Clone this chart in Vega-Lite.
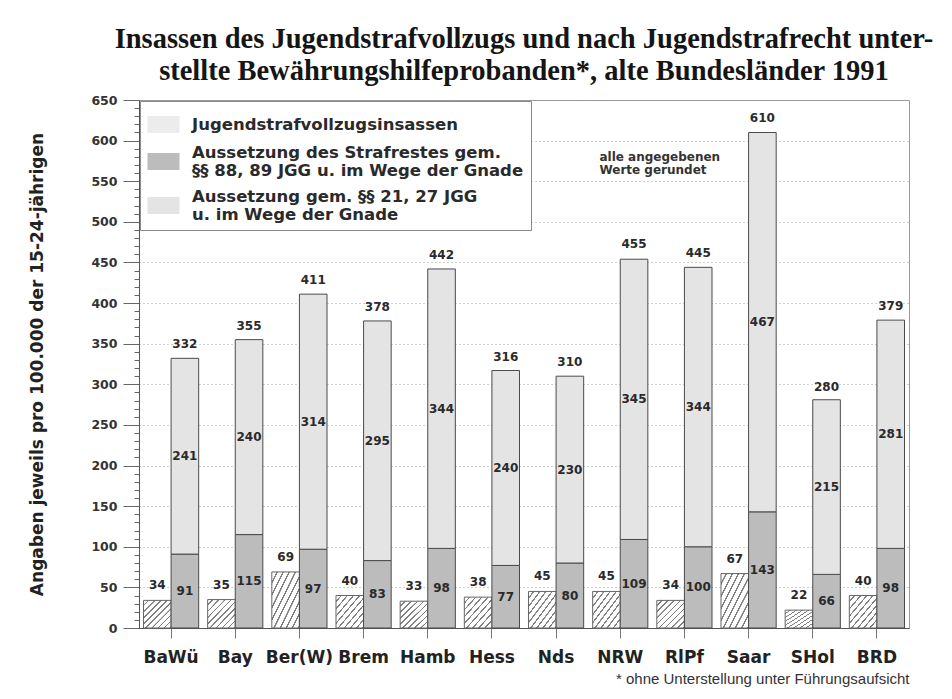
{
  "$schema": "https://vega.github.io/schema/vega-lite/v6.json",
  "width": 770,
  "height": 528,
  "autosize": {"type": "none"},
  "padding": {"left": 139, "top": 100, "right": 43, "bottom": 71},
  "background": "white",
  "title": {
    "text": ["Insassen des Jugendstrafvollzugs und nach Jugendstrafrecht unter-", "stellte Bewährungshilfeprobanden*, alte Bundesländer 1991"],
    "font": "Liberation Serif", "fontSize": 28.5, "fontWeight": "bold", "lineHeight": 32,
    "anchor": "middle", "offset": 9, "color": "#151515"
  },
  "config": {
    "view": {"stroke": "#9a9a9a", "strokeWidth": 1},
    "font": "DejaVu Sans"
  },
  "data": {"values": [
    {"state": "BaWü", "bar": "A", "series": "Jugendstrafvollzugsinsassen", "value": 34, "total": 332},
    {"state": "BaWü", "bar": "B", "series": "Aussetzung des Strafrestes gem. §§ 88, 89 JGG u. im Wege der Gnade", "value": 91, "total": 332},
    {"state": "BaWü", "bar": "B", "series": "Aussetzung gem. §§ 21, 27 JGG u. im Wege der Gnade", "value": 241, "total": 332},
    {"state": "Bay", "bar": "A", "series": "Jugendstrafvollzugsinsassen", "value": 35, "total": 355},
    {"state": "Bay", "bar": "B", "series": "Aussetzung des Strafrestes gem. §§ 88, 89 JGG u. im Wege der Gnade", "value": 115, "total": 355},
    {"state": "Bay", "bar": "B", "series": "Aussetzung gem. §§ 21, 27 JGG u. im Wege der Gnade", "value": 240, "total": 355},
    {"state": "Ber(W)", "bar": "A", "series": "Jugendstrafvollzugsinsassen", "value": 69, "total": 411},
    {"state": "Ber(W)", "bar": "B", "series": "Aussetzung des Strafrestes gem. §§ 88, 89 JGG u. im Wege der Gnade", "value": 97, "total": 411},
    {"state": "Ber(W)", "bar": "B", "series": "Aussetzung gem. §§ 21, 27 JGG u. im Wege der Gnade", "value": 314, "total": 411},
    {"state": "Brem", "bar": "A", "series": "Jugendstrafvollzugsinsassen", "value": 40, "total": 378},
    {"state": "Brem", "bar": "B", "series": "Aussetzung des Strafrestes gem. §§ 88, 89 JGG u. im Wege der Gnade", "value": 83, "total": 378},
    {"state": "Brem", "bar": "B", "series": "Aussetzung gem. §§ 21, 27 JGG u. im Wege der Gnade", "value": 295, "total": 378},
    {"state": "Hamb", "bar": "A", "series": "Jugendstrafvollzugsinsassen", "value": 33, "total": 442},
    {"state": "Hamb", "bar": "B", "series": "Aussetzung des Strafrestes gem. §§ 88, 89 JGG u. im Wege der Gnade", "value": 98, "total": 442},
    {"state": "Hamb", "bar": "B", "series": "Aussetzung gem. §§ 21, 27 JGG u. im Wege der Gnade", "value": 344, "total": 442},
    {"state": "Hess", "bar": "A", "series": "Jugendstrafvollzugsinsassen", "value": 38, "total": 316},
    {"state": "Hess", "bar": "B", "series": "Aussetzung des Strafrestes gem. §§ 88, 89 JGG u. im Wege der Gnade", "value": 77, "total": 316},
    {"state": "Hess", "bar": "B", "series": "Aussetzung gem. §§ 21, 27 JGG u. im Wege der Gnade", "value": 240, "total": 316},
    {"state": "Nds", "bar": "A", "series": "Jugendstrafvollzugsinsassen", "value": 45, "total": 310},
    {"state": "Nds", "bar": "B", "series": "Aussetzung des Strafrestes gem. §§ 88, 89 JGG u. im Wege der Gnade", "value": 80, "total": 310},
    {"state": "Nds", "bar": "B", "series": "Aussetzung gem. §§ 21, 27 JGG u. im Wege der Gnade", "value": 230, "total": 310},
    {"state": "NRW", "bar": "A", "series": "Jugendstrafvollzugsinsassen", "value": 45, "total": 455},
    {"state": "NRW", "bar": "B", "series": "Aussetzung des Strafrestes gem. §§ 88, 89 JGG u. im Wege der Gnade", "value": 109, "total": 455},
    {"state": "NRW", "bar": "B", "series": "Aussetzung gem. §§ 21, 27 JGG u. im Wege der Gnade", "value": 345, "total": 455},
    {"state": "RlPf", "bar": "A", "series": "Jugendstrafvollzugsinsassen", "value": 34, "total": 445},
    {"state": "RlPf", "bar": "B", "series": "Aussetzung des Strafrestes gem. §§ 88, 89 JGG u. im Wege der Gnade", "value": 100, "total": 445},
    {"state": "RlPf", "bar": "B", "series": "Aussetzung gem. §§ 21, 27 JGG u. im Wege der Gnade", "value": 344, "total": 445},
    {"state": "Saar", "bar": "A", "series": "Jugendstrafvollzugsinsassen", "value": 67, "total": 610},
    {"state": "Saar", "bar": "B", "series": "Aussetzung des Strafrestes gem. §§ 88, 89 JGG u. im Wege der Gnade", "value": 143, "total": 610},
    {"state": "Saar", "bar": "B", "series": "Aussetzung gem. §§ 21, 27 JGG u. im Wege der Gnade", "value": 467, "total": 610},
    {"state": "SHol", "bar": "A", "series": "Jugendstrafvollzugsinsassen", "value": 22, "total": 280},
    {"state": "SHol", "bar": "B", "series": "Aussetzung des Strafrestes gem. §§ 88, 89 JGG u. im Wege der Gnade", "value": 66, "total": 280},
    {"state": "SHol", "bar": "B", "series": "Aussetzung gem. §§ 21, 27 JGG u. im Wege der Gnade", "value": 215, "total": 280},
    {"state": "BRD", "bar": "A", "series": "Jugendstrafvollzugsinsassen", "value": 40, "total": 379},
    {"state": "BRD", "bar": "B", "series": "Aussetzung des Strafrestes gem. §§ 88, 89 JGG u. im Wege der Gnade", "value": 98, "total": 379},
    {"state": "BRD", "bar": "B", "series": "Aussetzung gem. §§ 21, 27 JGG u. im Wege der Gnade", "value": 281, "total": 379}
  ]},
  "encoding": {
    "x": {
      "field": "state", "type": "nominal", "sort": null,
      "scale": {"paddingInner": 0.14, "paddingOuter": 0.07},
      "axis": {
        "title": "* ohne Unterstellung unter Führungsaufsicht",
        "titleAnchor": "end", "titleFont": "Liberation Sans", "titleFontSize": 15, "titleFontWeight": "normal",
        "titleColor": "#333", "titlePadding": 6,
        "labelAngle": 0, "labelFont": "DejaVu Sans", "labelFontSize": 17, "labelFontWeight": "bold",
        "labelColor": "#222", "labelPadding": 11,
        "tickSize": 10, "tickColor": "#777", "domainColor": "#555", "grid": false
      }
    },
    "xOffset": {"field": "bar", "type": "nominal", "scale": {"domain": ["A", "B"], "paddingInner": 0, "paddingOuter": 0}}
  },
  "layer": [
    {
      "transform": [{"filter": "datum.bar === 'A'"}],
      "mark": {
        "type": "bar", "stroke": "#666", "strokeWidth": 1,
        "fill": {
          "gradient": "linear", "x1": 0, "y1": 0, "x2": 1, "y2": 1,
          "stops": [
            {"offset": 0, "color": "#ffffff"},
            {"offset": 0.080, "color": "#ffffff"}, {"offset": 0.083, "color": "#808080"}, {"offset": 0.108, "color": "#808080"}, {"offset": 0.111, "color": "#ffffff"},
            {"offset": 0.191, "color": "#ffffff"}, {"offset": 0.194, "color": "#808080"}, {"offset": 0.219, "color": "#808080"}, {"offset": 0.222, "color": "#ffffff"},
            {"offset": 0.302, "color": "#ffffff"}, {"offset": 0.305, "color": "#808080"}, {"offset": 0.330, "color": "#808080"}, {"offset": 0.333, "color": "#ffffff"},
            {"offset": 0.413, "color": "#ffffff"}, {"offset": 0.416, "color": "#808080"}, {"offset": 0.441, "color": "#808080"}, {"offset": 0.444, "color": "#ffffff"},
            {"offset": 0.524, "color": "#ffffff"}, {"offset": 0.527, "color": "#808080"}, {"offset": 0.552, "color": "#808080"}, {"offset": 0.555, "color": "#ffffff"},
            {"offset": 0.635, "color": "#ffffff"}, {"offset": 0.638, "color": "#808080"}, {"offset": 0.663, "color": "#808080"}, {"offset": 0.666, "color": "#ffffff"},
            {"offset": 0.746, "color": "#ffffff"}, {"offset": 0.749, "color": "#808080"}, {"offset": 0.774, "color": "#808080"}, {"offset": 0.777, "color": "#ffffff"},
            {"offset": 0.857, "color": "#ffffff"}, {"offset": 0.860, "color": "#808080"}, {"offset": 0.885, "color": "#808080"}, {"offset": 0.888, "color": "#ffffff"},
            {"offset": 0.968, "color": "#ffffff"}, {"offset": 0.971, "color": "#808080"}, {"offset": 0.996, "color": "#808080"}, {"offset": 1, "color": "#ffffff"}
          ]
        }
      },
      "encoding": {
        "y": {
          "field": "value", "type": "quantitative",
          "scale": {"domain": [0, 650], "nice": false},
          "axis": {
            "title": "Angaben jeweils pro 100.000 der 15-24-jährigen",
            "titleFont": "DejaVu Sans", "titleFontSize": 17, "titleFontWeight": "bold", "titleColor": "#222",
            "titlePadding": 44,
            "tickCount": 65,
            "labelExpr": "datum.value % 50 === 0 ? datum.label : ''",
            "labelFont": "DejaVu Sans", "labelFontSize": 12.5, "labelFontWeight": "bold", "labelColor": "#333",
            "labelPadding": 6,
            "tickSize": {"condition": {"test": "datum.value % 50 === 0", "value": 16}, "value": 5},
            "tickColor": "#666",
            "domainColor": "#555",
            "grid": true, "gridColor": "#a0a0a0", "gridDash": [1, 3],
            "gridOpacity": {"condition": {"test": "datum.value % 50 === 0", "value": 1}, "value": 0}
          }
        }
      }
    },
    {
      "transform": [
        {"filter": "datum.bar === 'B'"},
        {"stack": "value", "groupby": ["state"], "sort": [{"field": "series", "order": "ascending"}], "as": ["v0", "v1"]}
      ],
      "mark": {"type": "bar", "stroke": "#4a4a4a", "strokeWidth": 1},
      "encoding": {
        "y": {"field": "v1", "type": "quantitative"},
        "y2": {"field": "v0"},
        "color": {
          "field": "series", "type": "nominal",
          "scale": {
            "domain": ["Jugendstrafvollzugsinsassen", "Aussetzung des Strafrestes gem. §§ 88, 89 JGG u. im Wege der Gnade", "Aussetzung gem. §§ 21, 27 JGG u. im Wege der Gnade"],
            "range": ["#ececec", "#bcbcbc", "#e4e4e4"]
          },
          "legend": {
            "title": null, "orient": "top-left", "offset": 1, "padding": 7,
            "strokeColor": "#8a8a8a", "fillColor": "white",
            "symbolType": "M-1,-0.53H1V0.53H-1Z", "symbolSize": 1024,
            "symbolStrokeColor": "#666", "symbolStrokeWidth": 1,
            "labelFont": "DejaVu Sans", "labelFontSize": 16.5, "labelFontWeight": "bold", "labelColor": "#2a2a2a",
            "labelLimit": 440, "labelOffset": 12, "rowPadding": 9,
            "labelExpr": "indexof(datum.label, '88') > 0 ? ['Aussetzung des Strafrestes gem.', '§§ 88, 89 JGG u. im Wege der Gnade'] : indexof(datum.label, '21,') > 0 ? ['Aussetzung gem. §§ 21, 27 JGG', 'u. im Wege der Gnade'] : datum.label",
            "encode": {
              "labels": {"update": {
                "lineHeight": {"value": 18},
                "dy": [{"test": "indexof(datum.value, 'Aussetzung') === 0", "value": -9}, {"value": 0}]
              }},
              "symbols": {"update": {
                "opacity": {"value": 1},
                "fill": {"signal": "datum.value === 'Jugendstrafvollzugsinsassen' ? {gradient: 'linear', x1: 0, y1: 0, x2: 1, y2: 1, stops: [{offset: 0, color: '#ffffff'}, {offset: 0.08, color: '#ffffff'}, {offset: 0.083, color: '#909090'}, {offset: 0.108, color: '#909090'}, {offset: 0.111, color: '#ffffff'}, {offset: 0.191, color: '#ffffff'}, {offset: 0.194, color: '#909090'}, {offset: 0.219, color: '#909090'}, {offset: 0.222, color: '#ffffff'}, {offset: 0.302, color: '#ffffff'}, {offset: 0.305, color: '#909090'}, {offset: 0.33, color: '#909090'}, {offset: 0.333, color: '#ffffff'}, {offset: 0.413, color: '#ffffff'}, {offset: 0.416, color: '#909090'}, {offset: 0.441, color: '#909090'}, {offset: 0.444, color: '#ffffff'}, {offset: 0.524, color: '#ffffff'}, {offset: 0.527, color: '#909090'}, {offset: 0.552, color: '#909090'}, {offset: 0.555, color: '#ffffff'}, {offset: 0.635, color: '#ffffff'}, {offset: 0.638, color: '#909090'}, {offset: 0.663, color: '#909090'}, {offset: 0.666, color: '#ffffff'}, {offset: 0.746, color: '#ffffff'}, {offset: 0.749, color: '#909090'}, {offset: 0.774, color: '#909090'}, {offset: 0.777, color: '#ffffff'}, {offset: 0.857, color: '#ffffff'}, {offset: 0.86, color: '#909090'}, {offset: 0.885, color: '#909090'}, {offset: 0.888, color: '#ffffff'}, {offset: 0.968, color: '#ffffff'}, {offset: 0.971, color: '#909090'}, {offset: 0.996, color: '#909090'}, {offset: 1, color: '#ffffff'}]} : scale('color', datum.value)"}
              }}
            }
          }
        }
      }
    },
    {
      "transform": [{"filter": "datum.bar === 'A'"}],
      "mark": {"type": "text", "dy": -15, "font": "DejaVu Sans", "fontSize": 12, "fontWeight": "bold", "color": "#2a2a2a"},
      "encoding": {
        "y": {"field": "value", "type": "quantitative"},
        "text": {"field": "value", "type": "quantitative"}
      }
    },
    {
      "transform": [
        {"filter": "datum.bar === 'B'"},
        {"stack": "value", "groupby": ["state"], "sort": [{"field": "series", "order": "ascending"}], "as": ["v0", "v1"]},
        {"calculate": "(datum.v0 + datum.v1) / 2", "as": "mid"}
      ],
      "mark": {"type": "text", "font": "DejaVu Sans", "fontSize": 12, "fontWeight": "bold", "color": "#2a2a2a"},
      "encoding": {
        "y": {"field": "mid", "type": "quantitative"},
        "text": {"field": "value", "type": "quantitative"}
      }
    },
    {
      "transform": [{"filter": "datum.bar === 'B' && indexof(datum.series, '21,') > 0"}],
      "mark": {"type": "text", "dy": -14, "font": "DejaVu Sans", "fontSize": 12, "fontWeight": "bold", "color": "#2a2a2a"},
      "encoding": {
        "y": {"field": "total", "type": "quantitative"},
        "text": {"field": "total", "type": "quantitative"}
      }
    },
    {
      "data": {"values": [{"note": "alle angegebenen Werte gerundet"}]},
      "mark": {"type": "text", "align": "left", "baseline": "middle", "dx": -7, "lineHeight": 13, "font": "DejaVu Sans", "fontSize": 12, "fontWeight": "bold", "color": "#333"},
      "encoding": {
        "x": {"datum": "NRW"},
        "xOffset": {"datum": "A"},
        "y": {"datum": 580, "type": "quantitative"},
        "text": {"value": ["alle angegebenen", "Werte gerundet"]}
      }
    }
  ]
}
